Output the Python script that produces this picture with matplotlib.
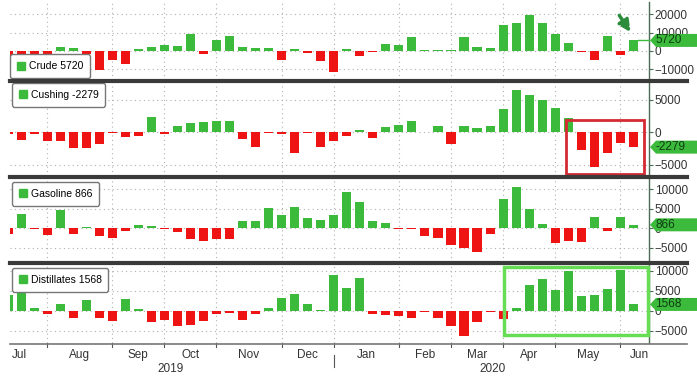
import numpy as np
import matplotlib
matplotlib.use("Agg")
import matplotlib.pyplot as plt
from matplotlib.patches import Patch, Polygon, Rectangle
from matplotlib.lines import Line2D
from matplotlib.transforms import IdentityTransform

plt.rcParams['font.family'] = ['Liberation Sans', 'DejaVu Sans']

# weekly changes (thousand barrels), weeks ending Jul 5 2019 .. Jun 5 2020
crude = [-9499, -3116, -10835, -8496, 2385, 1580, -1436, -10027, -4771, -6912,
         1058, 2412, 3100, 2927, 9281, -1699, 5702, 7929, 2219, 1379,
         1572, -4856, 822, -1085, -5474, -11458, 1164, -2549, -405, 3548,
         3355, 7459, 414, 452, 784, 7664, 1950, 1623, 13834, 15177,
         19248, 15022, 8991, 4590, -745, -4982, 7928, -2077, 5720]
cushing = [-300, -1200, -300, -1400, -1400, -2400, -2400, -1850, -150, -650,
           -500, 2400, -200, 1000, 1400, 1600, 1700, 1800, -1000, -2200,
           -100, -250, -3200, -150, -2300, -1300, -600, 300, -800, 850,
           1100, 1750, 50, 1000, -1850, 900, 650, 950, 3600, 6500,
           5800, 4900, 3800, 2200, -2700, -5300, -3200, -1600, -2279]
gasoline = [-1400, 3600, -100, -1800, 4600, -1400, 300, -2100, -2400, -700,
            800, 500, -100, -1100, -2900, -3200, -2900, -2800, 1900, 1900,
            5300, 3500, 5400, 2600, 2000, 3300, 9300, 6700, 1900, 1350,
            -100, -100, -2000, -2500, -4400, -5100, -6200, -1500, 7600, 10500,
            5000, 1000, -3800, -3200, -3500, 2900, -700, 2800, 866]
distillates = [3900, 6000, 600, -800, 1700, -1750, 2700, -1750, -2500, 2900,
               400, -2750, -2200, -3750, -3600, -2600, -800, -500, -2300, -700,
               800, 3200, 4300, 1700, 100, 8900, 5600, 8300, -800, -1100,
               -1300, -1750, -400, -1900, -3750, -6250, -2750, -400, -2100, 600,
               6400, 7900, 5100, 9900, 3700, 3900, 5500, 10100, 1568]

names = ["Crude", "Cushing", "Gasoline", "Distillates"]
series = [crude, cushing, gasoline, distillates]
last_labels = ["5720", "-2279", "866", "1568"]
yticks = [[20000, 10000, 0, -10000], [5000, 0, -5000],
          [10000, 5000, 0, -5000], [10000, 5000, 0, -5000]]
ylims = [(-15680, 26490), (-6720, 7740), (-8680, 12890), (-8075, 11675)]

# month grid (bar index of last week of previous month) and labels
grid_idx = [3, 8, 12, 16, 21, 25, 30, 34, 38, 42, 47]
months = ["Jul", "Aug", "Sep", "Oct", "Nov", "Dec", "Jan", "Feb", "Mar", "Apr", "May", "Jun"]
month_pos = [0.9, 5.5, 10, 14, 18.5, 23, 27.5, 32, 36, 40, 44.5, 48.5]
years = ["2019", "2020"]
year_pos = [12.5, 37.2]

GREEN = "#3cba3c"
RED = "#ee1414"
W, H = 697, 377
fig = plt.figure(figsize=(W / 100, H / 100), dpi=100)

# panel pixel extents (top, bottom)
panels = [(2, 80), (82, 176), (178, 262), (264, 343)]
x0, x1 = 10, 649
x = np.arange(len(crude))
axes = []
for k, (top, bot) in enumerate(panels):
    ax = fig.add_axes([x0 / W, 1 - bot / H, (x1 - x0) / W, (bot - top) / H])
    vals = np.array(series[k])
    cols = [GREEN if v >= 0 else RED for v in vals]
    ax.bar(x, vals, width=0.7, color=cols, zorder=2)
    ax.set_xlim(0.15, 49.2)
    ax.set_ylim(*ylims[k])
    for g in grid_idx:
        ax.axvline(g, color="#b0b0b0", ls=(0, (1, 3)), lw=0.8, zorder=1)
    for t in yticks[k]:
        ax.axhline(t, color="#b0b0b0", ls=(0, (1, 3)), lw=0.8, zorder=1)
    ax.yaxis.tick_right()
    ax.set_yticks(yticks[k])
    ax.tick_params(axis="y", direction="out", length=3, colors="#4a6b55",
                   labelcolor="#333333", labelsize=8.5, pad=1)
    ax.set_xticks([])
    for s in ["left", "top", "bottom"]:
        ax.spines[s].set_visible(False)
    ax.spines["right"].set_color("#4a6b55")
    ax.spines["right"].set_linewidth(1)
    axes.append(ax)

# legends (anchor = box corner, from the pixel positions of the boxes)
leg_pos = [("lower left", (0.0, 0.026)), ("upper left", (0.003, 0.989)),
           ("upper left", (0.003, 0.952)), ("upper left", (0.003, 0.949))]
for k, ax in enumerate(axes):
    loc, anchor = leg_pos[k]
    leg = ax.legend(handles=[Patch(color=GREEN)], labels=[f"{names[k]} {last_labels[k]}"],
                    loc=loc, bbox_to_anchor=anchor, borderaxespad=0, fontsize=7.5,
                    handlelength=0.8, handleheight=0.8, handletextpad=0.35,
                    borderpad=0.65, fancybox=True, framealpha=1, edgecolor="#777777")
    leg.get_frame().set_linewidth(1)
    leg.set_zorder(5)

# last value badges on the right
fig.canvas.draw()
for k, ax in enumerate(axes):
    yv = ax.transData.transform((0, series[k][-1]))[1]
    h = 6.5
    xa, xb = x1 + 1, W
    poly = Polygon([(xa, yv), (xa + 6, yv + h), (xb, yv + h), (xb, yv - h), (xa + 6, yv - h)],
                   closed=True, fc=GREEN, ec="none", transform=IdentityTransform(), zorder=6)
    fig.add_artist(poly)
    fig.text((xa + 5) / W, yv / H, last_labels[k], color="#0e3d12", fontsize=8.5,
             va="center", ha="left", zorder=7)

# crude last-value line and arrow
axes[0].plot([48.35, 49.2], [crude[-1], crude[-1]], color=GREEN, lw=1, zorder=3, clip_on=False)
axes[0].annotate("", xy=(47.9, 9000), xytext=(46.8, 20500),
                 arrowprops=dict(arrowstyle="-|>", color="#2c8c3c", lw=2.5,
                                 ls=(0, (2, 1)), mutation_scale=17), zorder=6)

# highlight boxes
axes[1].add_patch(Rectangle((42.8, -6415), 6.0, 8305, fill=False, ec="#d42a34", lw=2, zorder=4))
axes[3].add_patch(Rectangle((38.1, -6075), 11.05, 17000, fill=False, ec="#66dd55", lw=2.5,
                            zorder=4, clip_on=False))

# separators
for ypx, lw, c in [(80.5, 3, "#3a3a3a"), (176.5, 3, "#3a3a3a"), (262.5, 3, "#3a3a3a"), (343.5, 1.2, "#777777")]:
    fig.add_artist(Line2D([x0 / W, 687 / W], [1 - ypx / H, 1 - ypx / H], color=c, lw=lw))

# bottom axis labels
axb = axes[3]
for g in grid_idx:
    axb.plot([g, g], [0, -0.05], transform=axb.get_xaxis_transform(), color="#555555",
             lw=0.8, clip_on=False)
for m, p in zip(months, month_pos):
    axb.text(p, -0.08, m, transform=axb.get_xaxis_transform(), ha="center", va="top",
             fontsize=8.5, color="#333333")
for yl, p in zip(years, year_pos):
    axb.text(p, -0.25, yl, transform=axb.get_xaxis_transform(), ha="center", va="top",
             fontsize=8.5, color="#333333")
axb.plot([25, 25], [-0.15, -0.31], transform=axb.get_xaxis_transform(), color="#555555",
         lw=0.8, clip_on=False)

fig.savefig("out.png", dpi=100)
